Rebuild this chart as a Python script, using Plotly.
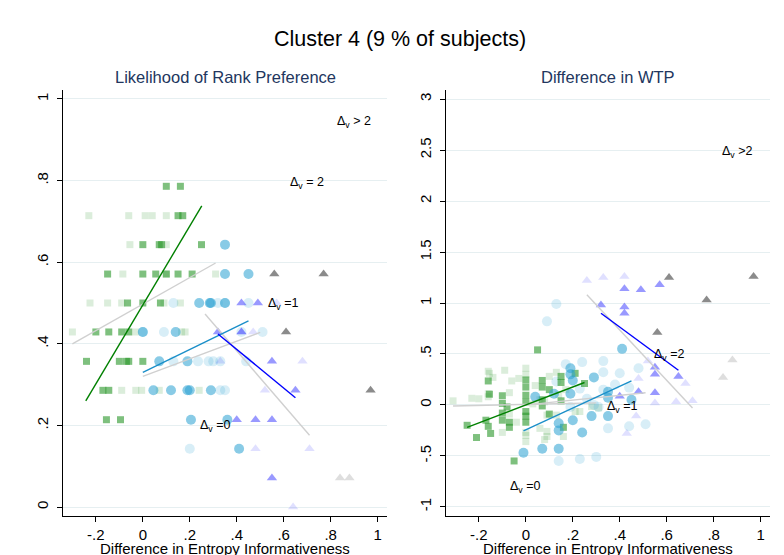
import plotly.graph_objects as go

# ---------------- Data: Likelihood of Rank Preference (left) ----------------
L_g0d_x = [0.10, 0.16, 0.15, 0.17, 0.0, 0.07, 0.08, 0.25, -0.15, 0.0, 0.055, 0.10, 0.15, 0.21,
           -0.065, 0.0, 0.075, -0.20, -0.145, -0.09, -0.06, -0.24, -0.10, -0.07, -0.06, 0.0,
           -0.17, -0.145, -0.155, -0.095]
L_g0d_y = [0.786, 0.786, 0.714, 0.714, 0.643, 0.643, 0.643, 0.643, 0.571, 0.571, 0.571, 0.571, 0.571, 0.571,
           0.5, 0.5, 0.5, 0.429, 0.429, 0.429, 0.429, 0.357, 0.357, 0.357, 0.357, 0.357,
           0.286, 0.286, 0.214, 0.214]
L_g0l_x = [-0.23, -0.06, 0.01, 0.04, 0.10, -0.055, 0.10, -0.085, 0.10, 0.31, -0.225, -0.15, -0.09, 0.09, 0.16,
           -0.30, -0.03, 0.165, 0.18, -0.09, -0.03, -0.005, 0.07, 0.24]
L_g0l_y = [0.714, 0.714, 0.714, 0.714, 0.714, 0.643, 0.643, 0.571, 0.571, 0.571, 0.5, 0.5, 0.5, 0.5, 0.5,
           0.429, 0.429, 0.429, 0.429, 0.286, 0.286, 0.286, 0.286, 0.286]
L_c1d_x = [0.35, 0.35, 0.45, 0.24, 0.285, 0.29, 0.35, 0.0, 0.14, 0.07, 0.19, 0.045, 0.12, 0.19, 0.20, 0.29,
           0.205, 0.36, 0.41]
L_c1d_y = [0.643, 0.571, 0.571, 0.5, 0.5, 0.5, 0.5, 0.429, 0.429, 0.357, 0.357, 0.286, 0.286, 0.286, 0.286, 0.286,
           0.214, 0.214, 0.143]
L_c1l_x = [0.13, 0.32, 0.35, 0.45, 0.09, 0.42, 0.51, 0.13, 0.235, 0.28, 0.30, 0.33, 0.44, 0.33, 0.35, 0.20, 0.0]
L_c1l_y = [0.5, 0.5, 0.5, 0.5, 0.429, 0.429, 0.429, 0.357, 0.357, 0.357, 0.357, 0.357, 0.357, 0.286, 0.286, 0.143, 0.429]
L_t2d_x = [0.42, 0.49, 0.32, 0.42, 0.55, 0.65, 0.40, 0.48, 0.55, 0.55]
L_t2d_y = [0.5, 0.5, 0.429, 0.429, 0.357, 0.286, 0.214, 0.214, 0.214, 0.071]
L_t2l_x = [0.57, 0.42, 0.47, 0.33, 0.68, 0.52, 0.48, 0.71, 0.64]
L_t2l_y = [0.5, 0.429, 0.429, 0.357, 0.357, 0.286, 0.143, 0.143, 0.0]
L_t3d_x = [0.56, 0.77, 0.61, 0.97]
L_t3d_y = [0.571, 0.571, 0.429, 0.286]
L_t3l_x = [0.84, 0.88]
L_t3l_y = [0.071, 0.071]
# fitted lines (endpoints)
L_fit_g0d = ([-0.243, 0.251], [0.26, 0.738])
L_fit_g0l = ([-0.30, 0.31], [0.40, 0.598])
L_fit_c1d = ([0.0, 0.45], [0.33, 0.456])
L_fit_c1l = ([0.0, 0.50], [0.32, 0.428])
L_fit_t2d = ([0.32, 0.65], [0.424, 0.268])
L_fit_t2l = ([0.265, 0.71], [0.473, 0.176])

# ---------------- Data: Difference in WTP (right) ----------------
R_g0d_x = [0.05, 0.21, 0.15, 0.25, 0.0, 0.07, 0.15, -0.16, 0.0, 0.07, 0.10, -0.10, -0.155, 0.0, 0.0, 0.07,
           0.15, -0.08, -0.10, 0.07, 0.10, 0.0, -0.10, -0.17, -0.25, -0.16, -0.07, -0.07, 0.0, -0.15,
           -0.21, -0.05, 0.16, -0.10, 0.0]
R_g0d_y = [0.54, 0.31, 0.28, 0.21, 0.245, 0.24, 0.22, 0.235, 0.175, 0.175, 0.15, 0.09, 0.105, 0.095, 0.03, 0.05,
           0.04, -0.02, 0.015, -0.01, -0.09, -0.065, -0.15, -0.15, -0.20, -0.21, -0.17, -0.22, -0.17, -0.28,
           -0.32, -0.55, -0.22, -0.08, -0.11]
R_g0l_x = [-0.31, -0.23, -0.16, -0.16, -0.09, -0.06, -0.04, -0.10, 0.0, 0.0, 0.0, 0.0, 0.04, 0.06, 0.08, 0.10,
           0.09, 0.09, 0.09, 0.13, 0.16, 0.17, 0.23, 0.31, -0.07, -0.14, 0.0, -0.07, 0.03, 0.08, 0.13, 0.21,
           0.28, 0.14, -0.03, -0.155, -0.16, -0.20, 0.06]
R_g0l_y = [0.04, 0.065, 0.33, 0.11, 0.34, 0.235, -0.17, -0.27, 0.36, 0.30, -0.27, -0.36, 0.19, -0.23, 0.03, 0.28,
           -0.10, -0.26, -0.31, -0.10, -0.31, 0.15, -0.065, -0.03, -0.09, 0.27, -0.30, 0.12, 0.01, -0.34, 0.32, -0.065,
           -0.016, 0.10, 0.26, 0.31, 0.08, 0.06, 0.05]
R_c1d_x = [0.41, 0.19, 0.19, 0.20, 0.29, 0.04, 0.12, 0.35, 0.35, 0.19, 0.45, 0.35, 0.28, 0.20, 0.14, 0.14,
           0.24, -0.01, 0.07, 0.14]
R_c1d_y = [0.55, 0.36, 0.30, 0.24, 0.27, 0.08, 0.11, 0.13, 0.07, 0.11, 0.05, -0.11, -0.11, -0.15, -0.18, -0.25,
           -0.27, -0.47, -0.43, -0.43]
R_c1l_x = [0.13, 0.09, 0.17, 0.24, 0.33, 0.40, 0.48, 0.44, 0.33, 0.23, 0.33, 0.29, 0.31, 0.13, 0.35, 0.44,
           0.51, 0.14, 0.23, 0.30, 0.19, 0.26, 0.38]
R_c1l_y = [0.99, 0.82, 0.40, 0.42, 0.43, 0.31, 0.36, 0.17, 0.32, 0.16, 0.15, 0.0, -0.02, 0.23, -0.23, -0.21,
           -0.19, -0.55, -0.53, -0.51, -0.02, 0.06, 0.20]
R_t2d_x = [0.32, 0.42, 0.49, 0.57, 0.42, 0.42, 0.55, 0.55, 0.65, 0.40, 0.48, 0.55]
R_t2d_y = [0.98, 1.14, 1.13, 1.18, 0.96, 0.90, 0.37, 0.30, 0.28, 0.085, 0.13, 0.12]
R_t2l_x = [0.26, 0.33, 0.42, 0.48, 0.52, 0.68, 0.71, 0.55, 0.64, 0.47, 0.43]
R_t2l_y = [1.22, 1.25, 1.26, 0.26, 0.43, 0.21, 0.04, 0.02, 0.03, -0.11, -0.28]
R_t3d_x = [0.61, 0.97, 0.77, 0.56]
R_t3d_y = [1.25, 1.26, 1.03, 0.71]
R_t3l_x = [0.84, 0.88]
R_t3l_y = [0.27, 0.44]
R_fit_g0d = ([-0.25, 0.25], [-0.22, 0.22])
R_fit_g0l = ([-0.31, 0.30], [-0.01, 0.02])
R_fit_c1d = ([-0.01, 0.45], [-0.255, 0.235])
R_fit_c1l = ([0.0, 0.51], [0.0, 0.12])
R_fit_t2d = ([0.32, 0.65], [0.90, 0.34])
R_fit_t2l = ([0.26, 0.71], [1.08, -0.03])

# ticks
x_tickvals = [-0.2, 0, 0.2, 0.4, 0.6, 0.8, 1]
x_ticktext = ["-.2", "0", ".2", ".4", ".6", ".8", "1"]
L_tickvals = [0, 0.2, 0.4, 0.6, 0.8, 1]
L_ticktext = ["0", ".2", ".4", ".6", ".8", "1"]
R_tickvals = [-1, -0.5, 0, 0.5, 1, 1.5, 2, 2.5, 3]
R_ticktext = ["-1", "-.5", "0", ".5", "1", "1.5", "2", "2.5", "3"]
X_TITLE = "Difference in Entropy Informativeness"

# labels
L_lab = [(0.90, 0.944, "Δ<sub>v</sub> > 2"), (0.70, 0.794, "Δ<sub>v</sub> = 2"),
         (0.60, 0.497, "Δ<sub>v</sub> =1"), (0.31, 0.199, "Δ<sub>v</sub> =0")]
R_lab = [(0.90, 2.48, "Δ<sub>v</sub> >2"), (0.61, 0.49, "Δ<sub>v</sub> =2"),
         (0.41, -0.02, "Δ<sub>v</sub> =1"), (0.0, -0.81, "Δ<sub>v</sub> =0")]

# ---------------- Styles ----------------
C_G_D = "rgba(40,150,40,0.60)"
C_G_L = "rgba(40,150,40,0.17)"
C_C_D = "rgba(40,160,210,0.55)"
C_C_L = "rgba(40,160,210,0.18)"
C_T_D = "rgba(70,70,255,0.55)"
C_T_L = "rgba(70,70,255,0.17)"
C_K_D = "rgba(90,90,90,0.70)"
C_K_L = "rgba(90,90,90,0.20)"

fig = go.Figure()


def add_panel(xa, ya, sets, fits):
    for (xs, ys, sym, col, sz) in sets:
        fig.add_trace(go.Scatter(x=xs, y=ys, mode="markers", xaxis=xa, yaxis=ya,
                                 marker=dict(symbol=sym, color=col, size=sz, line=dict(width=0)),
                                 showlegend=False, hoverinfo="skip"))
    for ((fx, fy), col) in fits:
        fig.add_trace(go.Scatter(x=fx, y=fy, mode="lines", xaxis=xa, yaxis=ya,
                                 line=dict(color=col, width=1.4), showlegend=False, hoverinfo="skip"))


add_panel("x", "y",
          [(L_g0l_x, L_g0l_y, "square", C_G_L, 7), (L_c1l_x, L_c1l_y, "circle", C_C_L, 10),
           (L_t2l_x, L_t2l_y, "triangle-up", C_T_L, 9), (L_t3l_x, L_t3l_y, "triangle-up", C_K_L, 9),
           (L_g0d_x, L_g0d_y, "square", C_G_D, 7), (L_c1d_x, L_c1d_y, "circle", C_C_D, 10),
           (L_t2d_x, L_t2d_y, "triangle-up", C_T_D, 9), (L_t3d_x, L_t3d_y, "triangle-up", C_K_D, 9)],
          [(L_fit_g0l, "#d0d0d0"), (L_fit_c1l, "#d0d0d0"), (L_fit_t2l, "#d0d0d0"),
           (L_fit_g0d, "#008000"), (L_fit_c1d, "#1a8fc9"), (L_fit_t2d, "#0000ff")])
add_panel("x2", "y2",
          [(R_g0l_x, R_g0l_y, "square", C_G_L, 7), (R_c1l_x, R_c1l_y, "circle", C_C_L, 10),
           (R_t2l_x, R_t2l_y, "triangle-up", C_T_L, 9), (R_t3l_x, R_t3l_y, "triangle-up", C_K_L, 9),
           (R_g0d_x, R_g0d_y, "square", C_G_D, 7), (R_c1d_x, R_c1d_y, "circle", C_C_D, 10),
           (R_t2d_x, R_t2d_y, "triangle-up", C_T_D, 9), (R_t3d_x, R_t3d_y, "triangle-up", C_K_D, 9)],
          [(R_fit_g0l, "#d0d0d0"), (R_fit_c1l, "#d0d0d0"), (R_fit_t2l, "#d0d0d0"),
           (R_fit_g0d, "#008000"), (R_fit_c1d, "#1a8fc9"), (R_fit_t2d, "#0000ff")])

FONT = "Liberation Sans, Arial, sans-serif"
W, H = 784, 555
ydom = [39 / H, 465 / H]
xdomL = [63 / W, 387 / W]
xdomR = [446 / W, 770 / W]

xcommon = dict(range=[-0.34, 1.04], tickvals=x_tickvals, ticktext=x_ticktext, showgrid=False,
               zeroline=False, showline=True, linecolor="black", linewidth=1, ticks="outside",
               ticklen=5, tickcolor="black",
               tickfont=dict(size=15, color="black", family=FONT),
               automargin=False)
ycommon = dict(showgrid=True, gridcolor="#e6eff1", gridwidth=1, zeroline=False, showline=True,
               linecolor="black", linewidth=1, ticks="outside", ticklen=5, tickcolor="black",
               tickangle=-90, ticklabelstandoff=3,
               tickfont=dict(size=15, color="black", family=FONT), automargin=False)

fig.update_layout(
    width=W, height=H,
    margin=dict(l=0, r=0, t=0, b=0),
    paper_bgcolor="white", plot_bgcolor="white",
    font=dict(family=FONT, color="black"),
    title=dict(text="Cluster 4 (9 % of subjects)", x=400 / W, xanchor="center",
               y=1 - 38 / H, yanchor="middle", font=dict(size=21.5, color="black", family=FONT)),
    xaxis=dict(domain=xdomL, anchor="y", **xcommon),
    xaxis2=dict(domain=xdomR, anchor="y2", **xcommon),
    yaxis=dict(domain=ydom, anchor="x", range=[-0.022, 1.022], tickvals=L_tickvals,
               ticktext=L_ticktext, **ycommon),
    yaxis2=dict(domain=ydom, anchor="x2", range=[-1.09, 3.09], tickvals=R_tickvals,
                ticktext=R_ticktext, **ycommon),
)

ann = []
ann.append(dict(text="Likelihood of Rank Preference", x=(xdomL[0] + xdomL[1]) / 2, y=1 - 77 / H,
                xref="paper", yref="paper", showarrow=False, xanchor="center", yanchor="middle",
                font=dict(size=16.5, color="#22365e", family=FONT)))
ann.append(dict(text="Difference in WTP", x=(xdomR[0] + xdomR[1]) / 2, y=1 - 77 / H,
                xref="paper", yref="paper", showarrow=False, xanchor="center", yanchor="middle",
                font=dict(size=16.5, color="#22365e", family=FONT)))
for dom in (xdomL, xdomR):
    ann.append(dict(text=X_TITLE, x=(dom[0] + dom[1]) / 2, y=1 - 548 / H,
                    xref="paper", yref="paper", showarrow=False, xanchor="center", yanchor="middle",
                    font=dict(size=15, color="black", family=FONT)))
for (lx, ly, t) in L_lab:
    ann.append(dict(text=t, x=lx, y=ly, xref="x", yref="y", showarrow=False,
                    font=dict(size=12.5, color="black", family=FONT)))
for (lx, ly, t) in R_lab:
    ann.append(dict(text=t, x=lx, y=ly, xref="x2", yref="y2", showarrow=False,
                    font=dict(size=12.5, color="black", family=FONT)))
fig.update_layout(annotations=ann)

fig.write_html("out.html", config={"displayModeBar": False},
               post_script="document.body.style.margin='0';document.body.style.padding='0';")
